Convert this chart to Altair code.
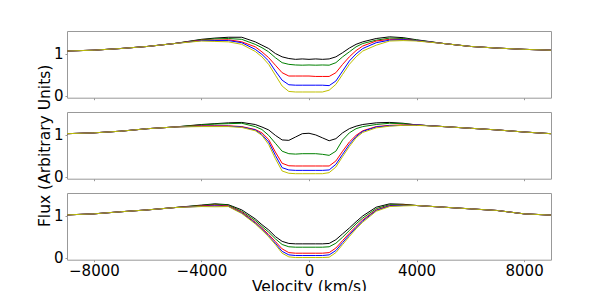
import altair as alt
import pandas as pd

# Velocity grid (km/s)
VEL = [-9000, -8000, -7000, -6000, -5000, -4000, -3500, -3000, -2500, -2000, -1750, -1500,
       -1250, -1000, -750, -500, -250, 0, 250, 500, 750, 1000, 1250, 1500, 1750, 2000,
       2500, 3000, 3500, 4000, 5000, 6000, 7000, 8000, 9000]

SERIES = ["black", "green", "red", "blue", "yellow"]
COLORS = ["#000000", "#008000", "#ff0000", "#0000ff", "#bfbf00"]

# Panel 1 (top)
P1_BLACK = [1.07, 1.09, 1.13, 1.18, 1.25, 1.35, 1.38, 1.40, 1.40, 1.29, 1.21, 1.13, 1.01, 0.93, 0.89, 0.87, 0.88, 0.87,
            0.88, 0.87, 0.88, 0.93, 1.03, 1.14, 1.23, 1.29, 1.37, 1.41, 1.39, 1.34, 1.25, 1.18, 1.14, 1.11, 1.09]
P1_GREEN = [1.07, 1.09, 1.13, 1.18, 1.25, 1.34, 1.36, 1.37, 1.35, 1.23, 1.15, 1.05, 0.91, 0.79, 0.75, 0.735, 0.73, 0.735,
            0.73, 0.735, 0.73, 0.79, 0.93, 1.05, 1.17, 1.25, 1.33, 1.38, 1.37, 1.33, 1.25, 1.18, 1.14, 1.11, 1.09]
P1_RED = [1.07, 1.09, 1.13, 1.18, 1.25, 1.33, 1.33, 1.34, 1.29, 1.17, 1.05, 0.91, 0.73, 0.55, 0.47, 0.47, 0.47, 0.47,
          0.46, 0.46, 0.46, 0.55, 0.75, 0.93, 1.08, 1.19, 1.31, 1.35, 1.35, 1.32, 1.25, 1.18, 1.14, 1.11, 1.09]
P1_BLUE = [1.07, 1.09, 1.13, 1.18, 1.25, 1.32, 1.32, 1.32, 1.27, 1.11, 0.99, 0.83, 0.59, 0.37, 0.26, 0.25, 0.25, 0.25,
           0.25, 0.25, 0.24, 0.35, 0.59, 0.83, 1.00, 1.13, 1.27, 1.33, 1.34, 1.32, 1.25, 1.18, 1.14, 1.11, 1.09]
P1_YELLOW = [1.07, 1.09, 1.13, 1.18, 1.25, 1.31, 1.30, 1.29, 1.23, 1.06, 0.93, 0.75, 0.49, 0.23, 0.10, 0.087, 0.087, 0.087,
             0.087, 0.087, 0.13, 0.27, 0.51, 0.75, 0.93, 1.07, 1.21, 1.31, 1.32, 1.31, 1.25, 1.18, 1.14, 1.11, 1.09]

# Panel 2 (middle)
P2_BLACK = [1.03, 1.05, 1.09, 1.15, 1.19, 1.25, 1.27, 1.29, 1.30, 1.25, 1.19, 1.12, 0.99, 0.88, 0.87, 0.95, 1.03, 1.04,
            1.00, 0.93, 0.86, 0.91, 1.05, 1.15, 1.21, 1.25, 1.29, 1.30, 1.28, 1.24, 1.20, 1.16, 1.12, 1.07, 1.03]
P2_GREEN = [1.03, 1.05, 1.09, 1.15, 1.19, 1.24, 1.26, 1.27, 1.28, 1.20, 1.13, 0.99, 0.80, 0.61, 0.55, 0.54, 0.55, 0.55,
            0.55, 0.535, 0.51, 0.61, 0.88, 1.05, 1.15, 1.20, 1.25, 1.28, 1.27, 1.24, 1.20, 1.16, 1.12, 1.07, 1.03]
P2_RED = [1.03, 1.05, 1.09, 1.15, 1.19, 1.22, 1.22, 1.22, 1.20, 1.13, 1.05, 0.89, 0.59, 0.32, 0.26, 0.255, 0.255, 0.255,
          0.255, 0.255, 0.255, 0.375, 0.61, 0.83, 0.99, 1.10, 1.20, 1.23, 1.24, 1.24, 1.20, 1.16, 1.12, 1.07, 1.03]
P2_BLUE = [1.03, 1.05, 1.09, 1.15, 1.19, 1.21, 1.21, 1.21, 1.19, 1.12, 1.01, 0.83, 0.51, 0.215, 0.16, 0.15, 0.15, 0.15,
           0.15, 0.15, 0.16, 0.295, 0.535, 0.77, 0.96, 1.085, 1.19, 1.22, 1.23, 1.24, 1.20, 1.16, 1.12, 1.07, 1.03]
P2_YELLOW = [1.03, 1.05, 1.09, 1.15, 1.19, 1.20, 1.20, 1.20, 1.18, 1.10, 0.99, 0.77, 0.43, 0.135, 0.08, 0.07, 0.07, 0.07,
             0.07, 0.07, 0.095, 0.23, 0.48, 0.72, 0.93, 1.06, 1.17, 1.21, 1.23, 1.23, 1.20, 1.16, 1.12, 1.07, 1.03]

# Panel 3 (bottom)
P3_BLACK = [1.025, 1.05, 1.10, 1.145, 1.20, 1.26, 1.29, 1.27, 1.145, 0.93, 0.79, 0.665, 0.505, 0.39, 0.34, 0.33, 0.33, 0.33,
            0.33, 0.33, 0.34, 0.43, 0.57, 0.71, 0.86, 1.00, 1.21, 1.29, 1.28, 1.25, 1.21, 1.17, 1.13, 1.05, 1.02]
P3_GREEN = [1.025, 1.05, 1.10, 1.145, 1.20, 1.25, 1.28, 1.26, 1.11, 0.89, 0.745, 0.61, 0.45, 0.315, 0.26, 0.25, 0.25, 0.25,
            0.25, 0.25, 0.26, 0.345, 0.49, 0.65, 0.81, 0.95, 1.175, 1.27, 1.27, 1.25, 1.21, 1.17, 1.13, 1.05, 1.02]
P3_RED = [1.025, 1.05, 1.10, 1.145, 1.20, 1.24, 1.26, 1.24, 1.09, 0.85, 0.705, 0.555, 0.385, 0.21, 0.12, 0.106, 0.106, 0.106,
          0.106, 0.106, 0.12, 0.23, 0.41, 0.585, 0.75, 0.905, 1.145, 1.25, 1.26, 1.25, 1.21, 1.17, 1.13, 1.05, 1.02]
P3_BLUE = [1.025, 1.05, 1.10, 1.145, 1.20, 1.23, 1.24, 1.23, 1.07, 0.83, 0.68, 0.52, 0.345, 0.15, 0.066, 0.05, 0.05, 0.05,
           0.05, 0.05, 0.066, 0.17, 0.36, 0.545, 0.72, 0.88, 1.13, 1.24, 1.25, 1.25, 1.21, 1.17, 1.13, 1.05, 1.02]
P3_YELLOW = [1.025, 1.05, 1.10, 1.145, 1.20, 1.225, 1.22, 1.225, 1.057, 0.81, 0.66, 0.50, 0.314, 0.106, 0.018, 0.002, 0.002, 0.002,
             0.002, 0.002, 0.01, 0.12, 0.314, 0.505, 0.69, 0.85, 1.113, 1.225, 1.24, 1.25, 1.21, 1.17, 1.13, 1.05, 1.02]

X_TICKS = [-8000, -4000, 0, 4000, 8000]
Y_TICKS = [0, 1]

PANELS = [
    [P1_BLACK, P1_GREEN, P1_RED, P1_BLUE, P1_YELLOW],
    [P2_BLACK, P2_GREEN, P2_RED, P2_BLUE, P2_YELLOW],
    [P3_BLACK, P3_GREEN, P3_RED, P3_BLUE, P3_YELLOW],
]

rows = []
for p, panel in enumerate(PANELS):
    for s, vals in zip(SERIES, panel):
        for v, f in zip(VEL, vals):
            rows.append({"panel": p, "series": s, "vel": v, "flux": f})
df = pd.DataFrame(rows)

W, H = 484, 66.7


def make_panel(p):
    if p == 2:
        xaxis = alt.Axis(values=X_TICKS, format="d", labels=True)
        xtitle = "Velocity (km/s)"
    else:
        xaxis = alt.Axis(values=X_TICKS, format="d", labels=False)
        xtitle = None
    ytitle = "Flux (Arbitrary Units)" if p == 1 else None
    layers = []
    for s, c in zip(SERIES, COLORS):
        layers.append(
            alt.Chart(df)
            .transform_filter((alt.datum.panel == p) & (alt.datum.series == s))
            .mark_line(color=c, strokeWidth=1)
            .encode(
                x=alt.X("vel:Q", title=xtitle,
                        scale=alt.Scale(domain=[-9000, 9000], nice=False, zero=False),
                        axis=xaxis),
                y=alt.Y("flux:Q", title=ytitle,
                        scale=alt.Scale(domain=[-0.05, 1.55], nice=False, zero=False),
                        axis=alt.Axis(values=Y_TICKS, format="d")),
            )
        )
    return alt.layer(*layers).properties(width=W, height=H)


chart = (
    alt.vconcat(make_panel(0), make_panel(1), make_panel(2), spacing=14, bounds="flush")
    .configure_view(stroke="#999999", strokeWidth=1)
    .configure_axis(
        grid=False, domain=False, tickSize=2, tickColor="#999999",
        labelFont="DejaVu Sans", labelFontSize=15, labelColor="#000000",
        labelPadding=2, labelFlush=False,
        titleFont="DejaVu Sans", titleFontSize=15.5, titleFontWeight="normal",
        titleColor="#000000", titlePadding=1,
    )
    .properties(padding={"left": 28, "top": 22, "right": 5, "bottom": 5}, background="white")
)

chart.save("out.html", embed_options={"renderer": "svg", "actions": False})
